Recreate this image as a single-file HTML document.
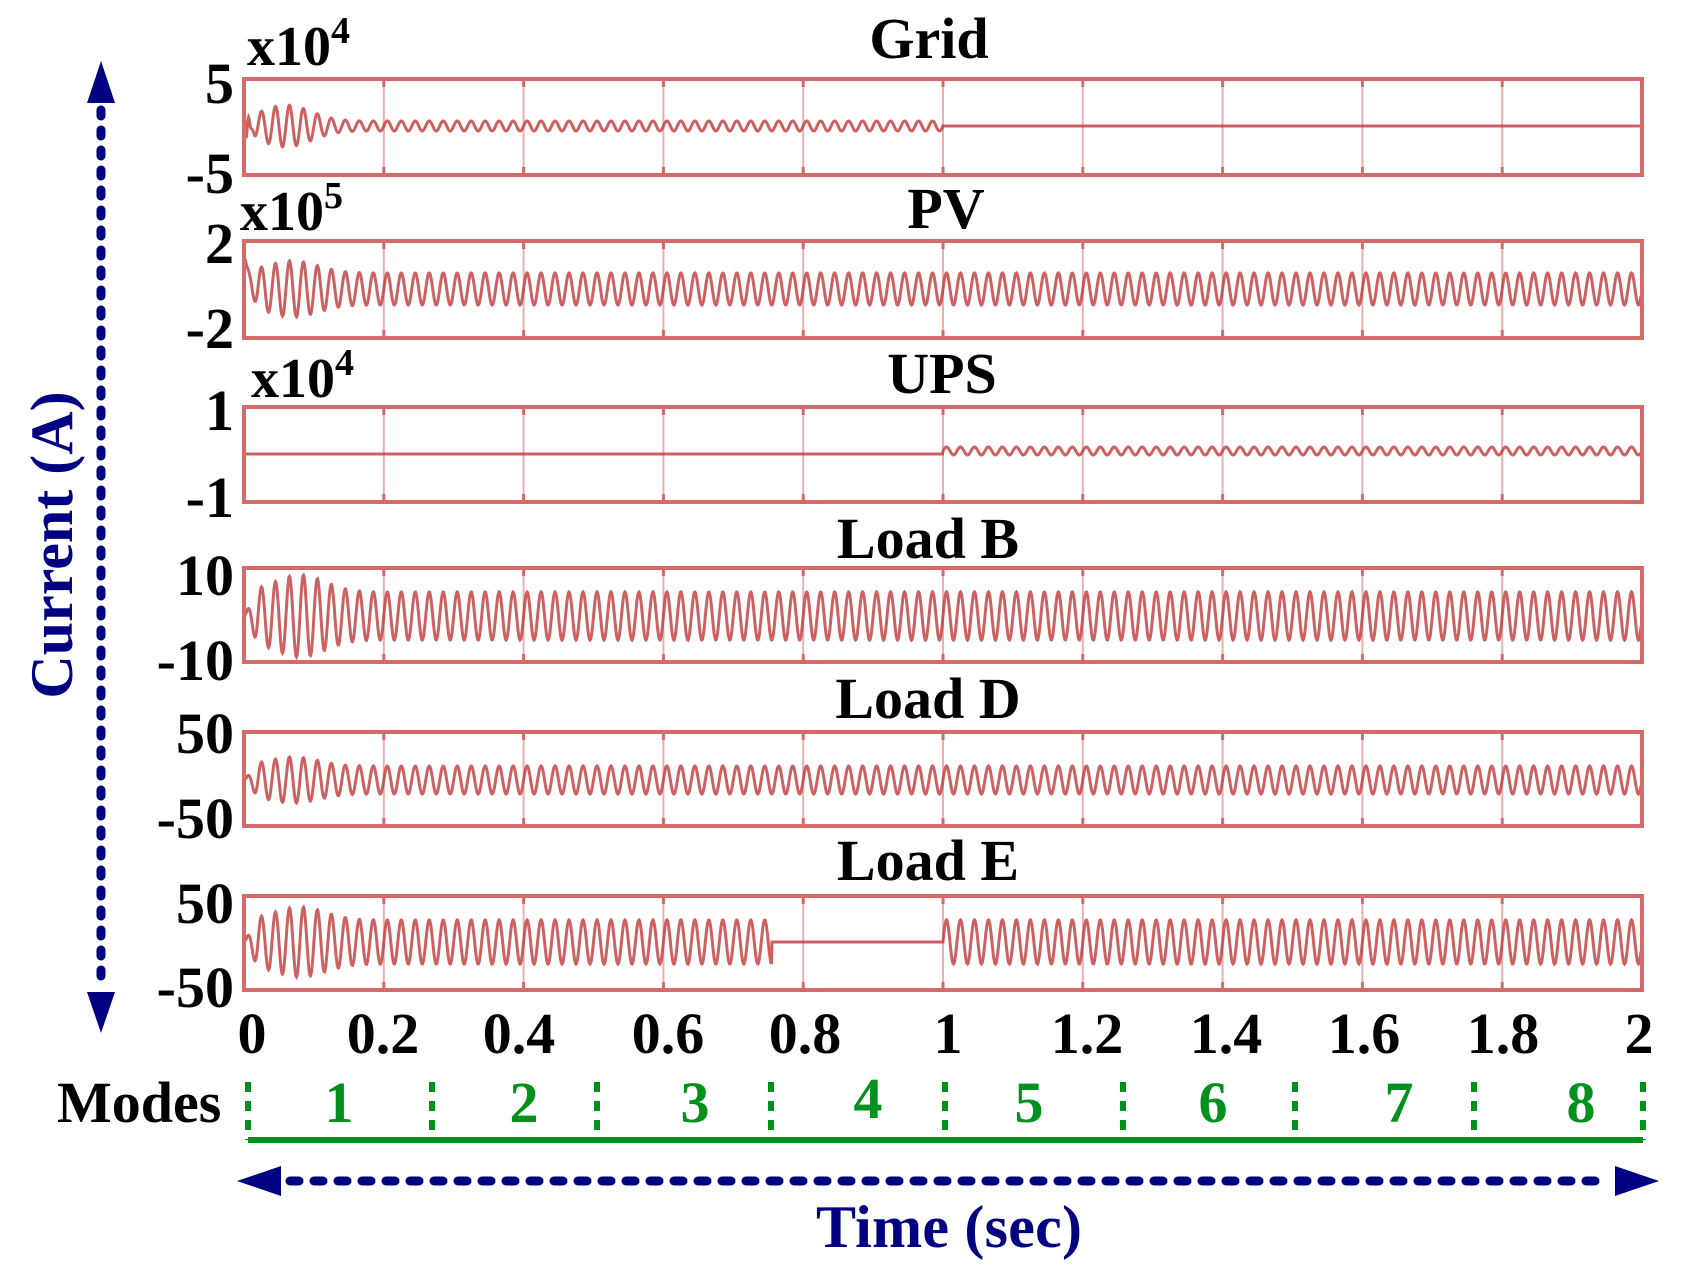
<!DOCTYPE html>
<html><head><meta charset="utf-8">
<style>
html,body{margin:0;padding:0;background:#fff;}
svg{display:block;}
text{font-family:"Liberation Serif",serif;font-weight:bold;}
</style></head>
<body>
<svg id="s" width="1683" height="1282" viewBox="0 0 1683 1282" xmlns="http://www.w3.org/2000/svg">
<g id="grid"></g>
<g id="sig" fill="none" stroke="#c03a3a" stroke-width="3" stroke-opacity="0.8"></g>
<g id="box" fill="none" stroke="#d46a6a" stroke-width="4"></g>

<g font-size="58" fill="#000" text-anchor="middle">
<text x="929" y="58">Grid</text>
<text x="946" y="228">PV</text>
<text x="942" y="393">UPS</text>
<text x="928" y="558">Load B</text>
<text x="928" y="718">Load D</text>
<text x="928" y="880">Load E</text>
</g>
<g font-size="56" fill="#000">
<text x="247" y="65">x10<tspan font-size="38" dy="-22">4</tspan></text>
<text x="240" y="230">x10<tspan font-size="38" dy="-22">5</tspan></text>
<text x="251" y="397">x10<tspan font-size="38" dy="-22">4</tspan></text>
</g>
<g font-size="58" fill="#000" text-anchor="end">
<text x="234" y="103">5</text>
<text x="234" y="193">-5</text>
<text x="234" y="263">2</text>
<text x="234" y="348">-2</text>
<text x="234" y="430">1</text>
<text x="234" y="517">-1</text>
<text x="234" y="595">10</text>
<text x="234" y="680">-10</text>
<text x="234" y="753">50</text>
<text x="234" y="838">-50</text>
<text x="234" y="923">50</text>
<text x="234" y="1007">-50</text>
</g>
<g font-size="58" fill="#000" text-anchor="middle">
<text x="252" y="1053">0</text>
<text x="383" y="1053">0.2</text>
<text x="519" y="1053">0.4</text>
<text x="668" y="1053">0.6</text>
<text x="805" y="1053">0.8</text>
<text x="948" y="1053">1</text>
<text x="1087" y="1053">1.2</text>
<text x="1226" y="1053">1.4</text>
<text x="1364" y="1053">1.6</text>
<text x="1503" y="1053">1.8</text>
<text x="1639" y="1053">2</text>
</g>
<text x="57" y="1122" font-size="58" fill="#000">Modes</text>
<g stroke="#00901c" stroke-width="6" fill="none">
<line x1="248" y1="1140" x2="1643" y2="1140"/>
<g stroke-dasharray="10 9">
<line x1="248" y1="1082" x2="248" y2="1140"/>
<line x1="432" y1="1082" x2="432" y2="1140"/>
<line x1="597" y1="1082" x2="597" y2="1140"/>
<line x1="771" y1="1082" x2="771" y2="1140"/>
<line x1="945" y1="1082" x2="945" y2="1140"/>
<line x1="1123" y1="1082" x2="1123" y2="1140"/>
<line x1="1295" y1="1082" x2="1295" y2="1140"/>
<line x1="1474" y1="1082" x2="1474" y2="1140"/>
<line x1="1643" y1="1082" x2="1643" y2="1140"/>
</g>
</g>
<g font-size="58" fill="#00901c" text-anchor="middle">
<text x="339" y="1122">1</text>
<text x="524" y="1122">2</text>
<text x="695" y="1122">3</text>
<text x="868" y="1118">4</text>
<text x="1029" y="1122">5</text>
<text x="1213" y="1122">6</text>
<text x="1399" y="1122">7</text>
<text x="1581" y="1122">8</text>
</g>
<g stroke="#000080" stroke-width="9" stroke-linecap="round" fill="none">
<line x1="101" y1="110" x2="101" y2="985" stroke-dasharray="6 14"/>
<line x1="290" y1="1181" x2="1610" y2="1181" stroke-dasharray="9 15"/>
</g>
<g fill="#000080">
<polygon points="101,61 87,103 115,103"/>
<polygon points="101,1033 87,992 115,992"/>
<polygon points="237,1181 281,1166 281,1196"/>
<polygon points="1659,1181 1615,1166 1615,1196"/>
</g>
<text transform="translate(72,545) rotate(-90)" font-size="60" fill="#000080" text-anchor="middle">Current (A)</text>
<text x="816" y="1247" font-size="60" fill="#000080" textLength="266">Time (sec)</text>
</svg>
<script>
(function(){
var NS="http://www.w3.org/2000/svg";
var L=244,R=1642,W=R-L;
var panels=[[79,175],[241,338],[407,502],[568,662],[732,826],[896,990]];
var box=document.getElementById('box'),grid=document.getElementById('grid'),sig=document.getElementById('sig');
function el(n,a,p){var e=document.createElementNS(NS,n);for(var k in a)e.setAttribute(k,a[k]);p.appendChild(e);return e;}
panels.forEach(function(p){
  el('rect',{x:L,y:p[0],width:W,height:p[1]-p[0]},box);
  for(var k=1;k<10;k++){var x=L+W*k/10;
    el('line',{x1:x,y1:p[0],x2:x,y2:p[1],stroke:'#e8b0b0','stroke-width':2},grid);
    el('line',{x1:x,y1:p[0],x2:x,y2:p[0]+8,stroke:'#d46a6a','stroke-width':3},grid);
    el('line',{x1:x,y1:p[1]-8,x2:x,y2:p[1],stroke:'#d46a6a','stroke-width':3},grid);}
});
function bump(t,c,w){return Math.exp(-Math.pow((t-c)/w,2));}
function ramp(t){return Math.min(1,t/0.02);}
var w=2*Math.PI*50;
var fns=[
 function(t){ if(t>=1)return 126; var e=5+16*bump(t,0.06,0.05); return 126-e*Math.sin(w*t)*ramp(t)-30*Math.exp(-t/0.004)*Math.cos(w*t*3);},
 function(t){ var e=16+12*bump(t,0.07,0.05); return 289-e*Math.sin(w*t)*ramp(t)-38*Math.exp(-t/0.006);},
 function(t){ if(t<1)return 454; return 451-4*Math.sin(w*t);},
 function(t){ var e=24+17*bump(t,0.08,0.05); return 616-e*Math.sin(w*t)*ramp(t);},
 function(t){ var e=14+9*bump(t,0.07,0.05); return 780-e*Math.sin(w*t)*ramp(t);},
 function(t){ if(t>0.755&&t<1)return 942; var e=22+13*bump(t,0.08,0.05); return 942-e*Math.sin(w*t)*ramp(t);}
];
fns.forEach(function(f){
  var pts=[];
  for(var x=L+1;x<=R-1;x+=0.5){var t=(x-L)/W*2;pts.push(x.toFixed(1)+','+f(t).toFixed(1));}
  el('polyline',{points:pts.join(' ')},sig);
});
})();
</script>
</body></html>
